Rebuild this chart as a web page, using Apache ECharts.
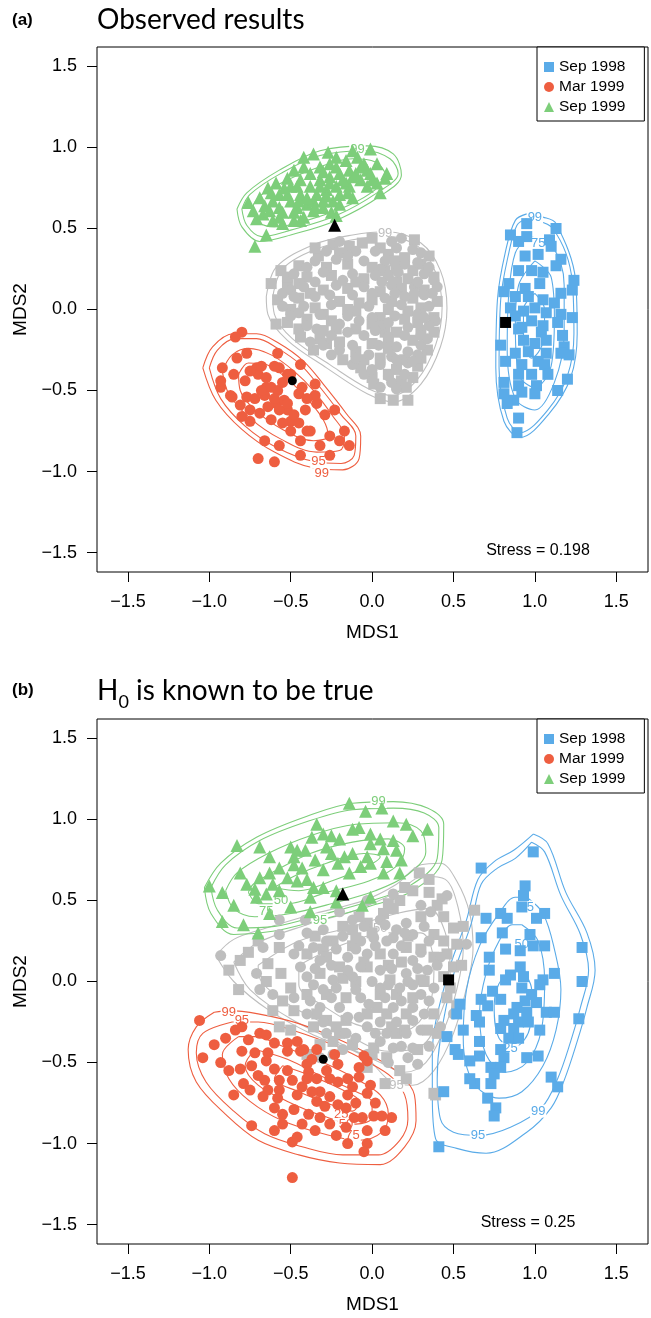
<!DOCTYPE html>
<html><head><meta charset="utf-8">
<script src="https://cdn.jsdelivr.net/npm/echarts@6/dist/echarts.min.js"></script>
<style>html,body{margin:0;padding:0;background:#fff}#c{width:651px;height:1318px}</style>
</head><body><div id="c"></div>
<script>
// ---------- tick values ----------
const xTicks = [-1.5,-1,-0.5,0,0.5,1,1.5];
const yTicks = [-1.5,-1,-0.5,0,0.5,1,1.5];
const groupNames = ['Sep 1998','Mar 1999','Sep 1999'];

// ---------- Panel (a): observed ----------
const a_sep98 = [[0.95,0.53],[1.13,0.50],[0.85,0.46],[0.95,0.45],[1.09,0.43],[1.10,0.39],[0.90,0.42],[1.02,0.34],[0.94,0.33],[1.16,0.31],[1.13,0.27],[0.90,0.24],[0.98,0.24],[1.05,0.23],[1.24,0.18],[0.84,0.16],[0.81,0.11],[0.94,0.13],[1.03,0.16],[1.23,0.12],[1.16,0.10],[0.88,0.08],[0.96,0.08],[1.05,0.06],[1.12,0.04],[0.85,0.01],[1.00,0.01],[0.93,-0.01],[1.07,-0.02],[1.16,-0.03],[1.23,-0.05],[0.88,-0.04],[0.98,-0.07],[0.92,-0.11],[1.05,-0.10],[1.14,-0.08],[0.79,-0.22],[0.90,-0.12],[1.04,-0.14],[0.93,-0.19],[1.07,-0.19],[1.17,-0.16],[1.18,-0.23],[1.00,-0.21],[0.88,-0.27],[0.96,-0.26],[1.07,-0.27],[1.16,-0.27],[1.21,-0.28],[0.82,-0.32],[0.92,-0.34],[1.02,-0.32],[1.06,-0.34],[0.90,-0.40],[0.98,-0.40],[1.08,-0.40],[0.81,-0.45],[0.90,-0.47],[1.01,-0.47],[1.20,-0.43],[0.92,-0.51],[1.00,-0.52],[0.81,-0.52],[1.14,-0.50],[0.87,-0.56],[0.83,-0.58],[0.90,-0.67],[0.89,-0.76]];
const a_mar99 = [[-0.80,-0.14],[-0.84,-0.17],[-0.92,-0.36],[-0.93,-0.48],[-0.86,-0.54],[-0.85,-0.40],[-0.83,-0.30],[-0.77,-0.27],[-0.71,-0.36],[-0.65,-0.48],[-0.58,-0.27],[-0.57,-0.36],[-0.50,-0.40],[-0.44,-0.34],[-0.43,-0.48],[-0.35,-0.46],[-0.34,-0.58],[-0.59,-0.58],[-0.77,-0.54],[-0.69,-0.64],[-0.52,-0.62],[-0.75,-0.69],[-0.66,-0.81],[-0.57,-0.84],[-0.44,-0.81],[-0.38,-0.75],[-0.32,-0.84],[-0.26,-0.78],[-0.20,-0.81],[-0.17,-0.75],[-0.26,-0.90],[-0.44,-0.90],[-0.70,-0.92],[-0.60,-0.94],[-0.50,-0.69],[-0.41,-0.62],[-0.29,-0.65],[-0.35,-0.53],[-0.23,-0.62],[-0.14,-0.84],[-0.54,-0.56],[-0.66,-0.53],[-0.81,-0.59],[-0.87,-0.53],[-0.78,-0.44],[-0.93,-0.44],[-0.70,-0.40],[-0.65,-0.42],[-0.62,-0.48],[-0.58,-0.50],[-0.55,-0.45],[-0.60,-0.55],[-0.68,-0.50],[-0.72,-0.55],[-0.64,-0.60],[-0.57,-0.62],[-0.52,-0.58],[-0.48,-0.65],[-0.55,-0.70],[-0.62,-0.68],[-0.50,-0.75],[-0.45,-0.70],[-0.40,-0.75],[-0.68,-0.35],[-0.75,-0.38],[-0.60,-0.35],[-0.52,-0.40],[-0.45,-0.52],[-0.40,-0.55],[-0.75,-0.62],[-0.80,-0.66]];
const a_sep99 = [[-0.72,0.39],[-0.65,0.46],[-0.71,0.56],[-0.76,0.66],[-0.69,0.69],[-0.64,0.75],[-0.59,0.78],[-0.52,0.81],[-0.48,0.86],[-0.42,0.88],[-0.36,0.96],[-0.27,0.97],[-0.22,0.94],[-0.16,0.92],[-0.12,0.98],[-0.01,0.99],[0.08,0.81],[0.09,0.84],[0.03,0.90],[-0.03,0.86],[-0.07,0.80],[-0.14,0.76],[-0.20,0.71],[-0.24,0.67],[-0.22,0.58],[-0.30,0.63],[-0.36,0.61],[-0.42,0.57],[-0.48,0.55],[-0.55,0.53],[-0.61,0.55],[-0.67,0.59],[-0.57,0.63],[-0.50,0.67],[-0.44,0.71],[-0.38,0.76],[-0.32,0.80],[-0.26,0.82],[-0.20,0.84],[-0.14,0.86],[-0.07,0.88],[-0.57,0.71],[-0.61,0.67],[-0.50,0.76],[-0.44,0.80],[-0.38,0.84],[-0.32,0.88],[-0.26,0.90],[-0.34,0.71],[-0.28,0.74],[-0.22,0.76],[-0.16,0.78],[-0.46,0.63],[-0.40,0.65],[-0.30,0.67],[-0.12,0.69],[-0.03,0.76],[0.03,0.78],[0.05,0.72],[-0.73,0.61],[-0.63,0.61],[-0.57,0.57],[-0.44,0.55],[-0.36,0.67],[-0.20,0.65],[-0.09,0.94],[-0.01,0.84],[-0.22,0.88],[-0.40,0.69],[-0.46,0.76],[-0.52,0.71],[-0.32,0.76],[-0.26,0.78],[-0.42,0.94],[-0.12,0.82],[-0.55,0.60],[-0.48,0.60],[-0.35,0.63],[-0.28,0.70],[-0.18,0.80],[-0.10,0.84],[-0.05,0.90],[0.00,0.80],[-0.30,0.85],[-0.45,0.67],[-0.62,0.72],[-0.66,0.64],[-0.54,0.75],[-0.15,0.72],[-0.25,0.60]];
const a_graySq = [[-0.24,0.40],[-0.14,0.39],[-0.06,0.41],[0.05,0.38],[0.26,0.43],[-0.33,0.33],[0.10,0.34],[0.20,0.32],[0.35,0.33],[-0.45,0.27],[-0.15,0.28],[0.00,0.26],[0.15,0.27],[0.30,0.28],[-0.56,0.24],[-0.40,0.20],[-0.25,0.21],[-0.05,0.19],[0.10,0.21],[0.22,0.19],[0.38,0.20],[-0.62,0.16],[-0.52,0.15],[-0.30,0.12],[-0.15,0.13],[0.05,0.11],[0.18,0.13],[0.32,0.12],[-0.58,0.06],[-0.45,0.07],[-0.20,0.05],[0.00,0.06],[0.25,0.07],[0.40,0.05],[-0.50,0.00],[-0.35,0.01],[-0.10,-0.01],[0.10,0.00],[0.30,0.01],[-0.40,-0.06],[-0.25,-0.07],[0.05,-0.05],[0.20,-0.06],[0.38,-0.05],[-0.59,-0.09],[-0.30,-0.13],[-0.10,-0.12],[0.15,-0.14],[0.30,-0.13],[-0.44,-0.17],[-0.32,-0.18],[-0.20,-0.20],[0.00,-0.21],[0.25,-0.19],[-0.36,-0.25],[-0.10,-0.26],[0.10,-0.24],[0.34,-0.25],[-0.18,-0.31],[0.05,-0.30],[0.20,-0.31],[-0.07,-0.36],[0.15,-0.37],[0.28,-0.35],[0.00,-0.42],[0.25,-0.42],[0.01,-0.46],[0.21,-0.48],[0.05,-0.55],[0.13,-0.56],[0.22,-0.56],[-0.35,0.38],[-0.20,0.35],[0.00,0.44],[0.14,0.30],[-0.52,0.20],[-0.28,0.26],[0.08,0.24],[0.25,0.24],[-0.45,0.16],[-0.10,0.17],[0.15,0.17],[-0.38,0.10],[-0.08,0.04],[0.12,0.05],[-0.30,-0.03],[-0.15,0.00],[0.22,-0.01],[-0.52,-0.08],[0.00,-0.09],[0.28,-0.08],[-0.22,-0.12],[0.08,-0.14],[0.38,-0.14],[-0.28,-0.21],[0.10,-0.20],[-0.05,-0.31],[0.30,-0.30],[0.10,-0.40],[0.18,-0.44],[-0.45,-0.12]];
const a_grayCi = [[-0.20,0.42],[0.12,0.42],[0.18,0.44],[-0.10,0.36],[0.02,0.36],[0.25,0.37],[-0.35,0.30],[-0.22,0.31],[0.08,0.30],[0.28,0.29],[0.05,0.25],[-0.48,0.22],[-0.30,0.23],[-0.12,0.22],[0.02,0.21],[0.16,0.23],[0.32,0.22],[0.38,0.18],[-0.35,0.17],[-0.42,0.14],[-0.22,0.15],[-0.05,0.14],[0.12,0.15],[0.26,0.14],[0.37,0.10],[-0.55,0.10],[-0.35,0.08],[-0.12,0.09],[0.08,0.07],[0.20,0.08],[0.32,0.09],[-0.42,0.02],[-0.25,0.03],[-0.02,0.02],[0.18,0.03],[0.35,0.02],[-0.50,-0.04],[-0.32,-0.03],[-0.15,-0.04],[0.00,-0.05],[0.14,-0.04],[0.28,-0.03],[0.39,-0.07],[-0.40,-0.10],[-0.20,-0.09],[0.05,-0.10],[0.22,-0.11],[0.35,-0.10],[-0.25,-0.16],[-0.05,-0.16],[0.10,-0.17],[0.30,-0.16],[-0.30,-0.22],[-0.12,-0.22],[0.15,-0.23],[0.30,-0.22],[-0.25,-0.28],[-0.02,-0.28],[0.12,-0.29],[0.28,-0.28],[-0.12,-0.34],[0.05,-0.34],[0.22,-0.33],[-0.05,-0.40],[0.10,-0.41],[0.20,-0.40],[0.05,-0.48],[0.15,-0.49],[-0.28,0.36],[-0.05,0.30],[0.20,0.28],[0.35,0.26],[-0.40,0.26],[-0.18,0.18],[0.06,0.17],[0.28,0.17],[-0.50,0.12],[-0.26,0.09],[0.00,0.10],[0.14,0.10],[0.26,0.10],[-0.45,-0.02],[-0.08,-0.07],[0.10,-0.08],[0.32,-0.05],[-0.34,-0.12],[-0.15,-0.14],[0.02,-0.13],[0.20,-0.16],[-0.38,-0.20],[-0.20,-0.25],[0.04,-0.22],[0.22,-0.26],[-0.10,-0.30],[0.15,-0.31],[0.00,-0.37],[0.25,-0.32],[0.12,-0.45],[-0.55,0.02],[-0.48,0.08],[0.40,0.14],[0.34,-0.18],[-0.15,0.33],[0.15,0.38],[0.30,0.35]];
const a_centroids = {sq:[[0.82,-0.08]], ci:[[-0.49,-0.44]], tr:[[-0.23,0.52]]};
// contours (a)
const a_cBlue = [
 [[0.95,0.59],[1.05,0.57],[1.13,0.53],[1.25,0.18],[1.26,-0.15],[1.22,-0.42],[1.09,-0.64],[0.91,-0.79],[0.81,-0.69],[0.76,-0.36],[0.77,0.06],[0.82,0.36],[0.88,0.55]],
 [[0.95,0.56],[1.11,0.50],[1.23,0.17],[1.24,-0.15],[1.20,-0.41],[1.08,-0.62],[0.91,-0.76],[0.83,-0.67],[0.78,-0.36],[0.79,0.06],[0.84,0.35],[0.89,0.52]],
 [[0.96,0.45],[1.10,0.40],[1.18,0.15],[1.18,-0.15],[1.12,-0.45],[1.00,-0.62],[0.88,-0.55],[0.83,-0.25],[0.84,0.10],[0.88,0.35]],
 [[1.00,0.30],[1.10,0.20],[1.12,-0.05],[1.10,-0.35],[1.00,-0.48],[0.90,-0.40],[0.88,-0.10],[0.90,0.15]],
 [[1.00,0.10],[1.06,0.00],[1.05,-0.20],[0.98,-0.30],[0.93,-0.20],[0.93,0.00]]];
const a_cRed = [
 [[-1.04,-0.36],[-0.98,-0.23],[-0.85,-0.15],[-0.71,-0.15],[-0.57,-0.21],[-0.42,-0.32],[-0.30,-0.46],[-0.16,-0.64],[-0.07,-0.78],[-0.08,-0.92],[-0.18,-0.99],[-0.35,-0.98],[-0.60,-0.88],[-0.80,-0.74],[-0.96,-0.56]],
 [[-1.00,-0.36],[-0.95,-0.25],[-0.84,-0.18],[-0.71,-0.18],[-0.58,-0.24],[-0.44,-0.34],[-0.32,-0.48],[-0.19,-0.65],[-0.10,-0.78],[-0.11,-0.90],[-0.19,-0.95],[-0.35,-0.94],[-0.59,-0.85],[-0.78,-0.72],[-0.93,-0.55]],
 [[-0.92,-0.38],[-0.86,-0.28],[-0.76,-0.24],[-0.62,-0.28],[-0.48,-0.38],[-0.36,-0.50],[-0.24,-0.66],[-0.17,-0.78],[-0.20,-0.87],[-0.34,-0.88],[-0.56,-0.80],[-0.75,-0.67],[-0.88,-0.52]],
 [[-0.82,-0.40],[-0.76,-0.33],[-0.65,-0.34],[-0.52,-0.43],[-0.40,-0.55],[-0.30,-0.68],[-0.27,-0.78],[-0.36,-0.81],[-0.55,-0.74],[-0.72,-0.62],[-0.81,-0.50]]];
const a_cGreen = [
 [[-0.83,0.62],[-0.80,0.51],[-0.69,0.42],[-0.50,0.46],[-0.22,0.55],[0.05,0.70],[0.18,0.83],[0.13,0.96],[-0.03,1.01],[-0.32,0.98],[-0.57,0.86],[-0.77,0.72]],
 [[-0.80,0.62],[-0.77,0.52],[-0.68,0.45],[-0.50,0.49],[-0.22,0.58],[0.03,0.72],[0.16,0.84],[0.11,0.93],[-0.04,0.98],[-0.32,0.95],[-0.56,0.84],[-0.75,0.71]],
 [[-0.74,0.62],[-0.70,0.54],[-0.60,0.51],[-0.40,0.55],[-0.15,0.64],[0.02,0.74],[0.08,0.83],[0.02,0.91],[-0.12,0.93],[-0.35,0.87],[-0.58,0.77],[-0.70,0.69]]];
const a_cGray = [
 [[-0.65,0.08],[-0.59,0.26],[-0.36,0.40],[-0.12,0.46],[0.09,0.48],[0.30,0.41],[0.42,0.24],[0.46,0.01],[0.42,-0.23],[0.30,-0.46],[0.13,-0.57],[-0.03,-0.52],[-0.28,-0.36],[-0.52,-0.19],[-0.64,-0.03]],
 [[-0.61,0.08],[-0.55,0.25],[-0.35,0.37],[-0.12,0.43],[0.09,0.45],[0.28,0.39],[0.39,0.23],[0.43,0.01],[0.39,-0.22],[0.28,-0.43],[0.13,-0.53],[-0.02,-0.49],[-0.26,-0.34],[-0.49,-0.18],[-0.60,-0.03]]];
const a_lblBlue = [[1.00,0.57,'99'],[1.02,0.41,'75']];
const a_lblRed = [[-0.33,-0.94,'95'],[-0.31,-1.01,'99']];
const a_lblGreen = [[-0.09,0.99,'99']];
const a_lblGray = [[0.08,0.47,'99']];

// ---------- Panel (b): H0 true ----------
const b_sep98 = [[0.67,0.70],[0.99,0.80],[0.94,0.59],[0.93,0.53],[0.92,0.46],[1.06,0.42],[1.01,0.39],[0.79,0.42],[0.83,0.39],[0.70,0.39],[0.67,0.27],[0.80,0.30],[0.97,0.29],[0.99,0.22],[1.06,0.22],[1.29,0.21],[0.82,0.20],[0.91,0.19],[0.72,0.15],[0.72,0.07],[0.85,0.04],[0.82,0.01],[0.91,0.09],[0.93,0.03],[1.12,0.05],[1.05,0.01],[1.03,-0.02],[1.29,0.00],[0.92,-0.04],[0.74,-0.06],[0.67,-0.11],[0.79,-0.11],[0.98,-0.08],[1.01,-0.13],[0.94,-0.12],[0.54,-0.14],[0.71,-0.15],[0.89,-0.16],[0.52,-0.20],[0.64,-0.21],[0.87,-0.20],[0.95,-0.19],[1.07,-0.19],[1.12,-0.19],[0.66,-0.25],[0.81,-0.24],[0.90,-0.25],[0.96,-0.25],[1.27,-0.23],[0.56,-0.30],[0.79,-0.29],[0.87,-0.29],[1.03,-0.30],[0.46,-0.34],[0.66,-0.37],[0.84,-0.35],[0.90,-0.35],[0.79,-0.42],[0.51,-0.42],[0.53,-0.45],[0.66,-0.46],[0.60,-0.49],[0.81,-0.47],[0.95,-0.47],[1.02,-0.46],[0.73,-0.53],[0.79,-0.53],[0.75,-0.57],[0.73,-0.63],[0.63,-0.63],[0.60,-0.60],[1.10,-0.59],[1.14,-0.65],[0.44,-0.68],[0.71,-0.72],[0.76,-0.78],[0.75,-0.83],[0.41,-1.02]];
const b_mar99 = [[-1.06,-0.24],[-0.97,-0.39],[-1.04,-0.47],[-0.93,-0.50],[-0.88,-0.55],[-0.81,-0.54],[-0.84,-0.30],[-0.80,-0.28],[-0.76,-0.36],[-0.69,-0.32],[-0.65,-0.33],[-0.60,-0.38],[-0.52,-0.38],[-0.46,-0.37],[-0.52,-0.43],[-0.44,-0.43],[-0.34,-0.42],[-0.23,-0.45],[-0.80,-0.43],[-0.72,-0.44],[-0.64,-0.44],[-0.74,-0.52],[-0.65,-0.49],[-0.60,-0.54],[-0.79,-0.63],[-0.75,-0.67],[-0.66,-0.61],[-0.67,-0.71],[-0.64,-0.67],[-0.57,-0.61],[-0.52,-0.55],[-0.40,-0.51],[-0.39,-0.56],[-0.34,-0.60],[-0.26,-0.60],[-0.21,-0.62],[-0.15,-0.60],[-0.08,-0.59],[-0.03,-0.49],[-0.05,-0.46],[-0.01,-0.64],[-0.03,-0.69],[0.02,-0.75],[0.06,-0.83],[0.12,-0.84],[0.01,-0.83],[-0.06,-0.84],[-0.11,-0.84],[-0.16,-0.78],[-0.15,-0.70],[-0.21,-0.76],[-0.26,-0.71],[-0.32,-0.68],[-0.37,-0.68],[-0.46,-0.70],[-0.48,-0.79],[-0.55,-0.82],[-0.55,-0.88],[-0.43,-0.88],[-0.39,-0.82],[-0.32,-0.84],[-0.26,-0.88],[-0.16,-0.90],[-0.03,-0.92],[-0.22,-0.95],[-0.15,-1.00],[-0.03,-1.00],[-0.05,-1.05],[-0.49,-0.99],[-0.46,-0.96],[-0.74,-0.89],[-0.49,-1.21],[-0.29,-0.77],[-0.34,-0.74],[-0.43,-0.65],[-0.49,-0.61],[-0.57,-0.67],[-0.60,-0.78],[-0.37,-0.48],[-0.21,-0.51],[-0.08,-0.53],[-0.90,-0.35],[-0.70,-0.58],[-0.58,-0.72],[-0.40,-0.60],[-0.28,-0.55],[-0.12,-0.65],[-0.10,-0.75],[-0.35,-0.92],[-0.60,-0.92],[-0.85,-0.70],[0.08,-0.92],[-0.42,-0.42]];
const b_sep99 = [[-0.14,1.10],[-0.04,1.05],[0.06,1.07],[0.13,0.99],[0.21,0.97],[0.34,0.94],[0.25,0.90],[0.05,0.88],[-0.01,0.91],[-0.08,0.95],[-0.20,0.88],[-0.25,0.90],[-0.30,0.91],[-0.34,0.97],[-0.37,0.89],[-0.50,0.83],[-0.46,0.81],[-0.41,0.81],[-0.69,0.83],[-0.83,0.84],[-0.81,0.67],[-1.00,0.59],[-0.92,0.55],[-0.85,0.47],[-0.92,0.37],[-0.79,0.35],[-0.70,0.30],[-0.63,0.42],[-0.72,0.57],[-0.69,0.64],[-0.63,0.67],[-0.57,0.70],[-0.52,0.64],[-0.48,0.72],[-0.43,0.70],[-0.40,0.63],[-0.35,0.75],[-0.30,0.69],[-0.25,0.79],[-0.21,0.73],[-0.17,0.77],[-0.14,0.67],[-0.12,0.79],[-0.07,0.71],[-0.03,0.77],[-0.01,0.73],[0.07,0.82],[0.09,0.74],[0.15,0.81],[0.18,0.75],[-0.12,0.94],[-0.01,0.85],[0.13,0.87],[-0.46,0.62],[-0.57,0.56],[-0.65,0.54],[-0.71,0.52],[-0.38,0.52],[-0.36,0.58],[-0.30,0.58],[-0.22,0.56],[-0.06,0.47],[-0.01,0.52],[-0.22,0.49],[-0.38,0.43],[-0.50,0.46],[-0.61,0.60],[-0.77,0.60],[-0.48,0.77],[-0.63,0.77],[-0.28,0.83],[0.17,0.67],[0.07,0.67]];
const b_graySq = [[0.29,0.67],[0.35,0.63],[0.20,0.58],[0.25,0.56],[0.43,0.51],[0.40,0.47],[0.44,0.40],[0.63,0.44],[0.17,0.50],[0.13,0.45],[0.07,0.42],[-0.03,0.36],[-0.12,0.32],[-0.18,0.34],[-0.24,0.25],[-0.12,0.22],[0.05,0.17],[0.21,0.21],[0.38,0.29],[0.44,0.25],[0.52,0.23],[0.56,0.34],[0.50,0.33],[0.38,0.15],[0.46,0.17],[0.50,0.09],[0.44,0.03],[0.30,0.01],[0.11,0.01],[-0.03,0.09],[-0.20,0.09],[-0.32,0.05],[-0.40,0.17],[-0.57,0.21],[-0.64,0.11],[-0.81,0.13],[-0.88,0.07],[-0.82,-0.05],[-0.56,0.05],[-0.50,-0.04],[-0.61,-0.18],[-0.48,-0.18],[-0.57,-0.28],[-0.50,-0.30],[-0.36,-0.28],[-0.28,-0.24],[-0.16,-0.24],[-0.03,-0.20],[0.09,-0.20],[0.21,-0.20],[0.38,-0.20],[0.34,-0.30],[0.15,-0.32],[0.01,-0.41],[-0.12,-0.39],[-0.24,-0.37],[-0.32,-0.39],[-0.40,-0.45],[-0.03,-0.53],[0.09,-0.47],[0.08,-0.63],[0.17,-0.55],[0.21,-0.60],[0.38,-0.69],[0.15,-0.08],[0.25,-0.10],[0.03,-0.16],[-0.16,-0.10],[-0.28,-0.08],[-0.40,-0.08],[0.46,-0.10],[0.48,-0.04],[0.39,-0.70],[0.00,0.30],[0.30,0.40],[0.10,0.10],[-0.10,0.00],[0.20,-0.30],[-0.20,-0.32],[0.30,0.20],[-0.30,0.20],[-0.35,0.28],[-0.10,0.27],[0.22,0.28],[-0.28,0.15],[-0.05,0.12],[0.18,0.12],[0.32,0.00],[-0.18,0.02],[0.05,-0.08],[-0.34,-0.20],[0.12,-0.28],[0.40,-0.32],[-0.22,-0.28],[0.28,-0.42],[0.00,-0.45],[-0.08,0.40],[0.10,0.48],[0.35,0.55],[0.55,0.10],[0.52,-0.15],[-0.70,0.25],[-0.76,0.18],[-0.65,0.00],[-0.55,-0.12]];
const b_grayCi = [[-0.93,0.16],[-0.71,0.05],[-0.69,-0.05],[-0.61,-0.08],[-0.57,0.38],[-0.41,0.38],[-0.20,0.43],[-0.12,0.38],[0.05,0.38],[0.13,0.54],[0.30,0.47],[0.36,0.43],[0.46,0.53],[0.58,0.23],[0.25,0.29],[0.13,0.27],[0.01,0.27],[-0.07,0.25],[-0.28,0.25],[-0.36,0.21],[-0.48,0.17],[-0.44,0.09],[-0.32,0.13],[-0.15,0.15],[-0.03,0.17],[0.13,0.17],[0.25,0.13],[0.34,0.07],[0.21,0.05],[0.05,0.07],[-0.12,0.03],[-0.24,0.01],[-0.36,-0.02],[-0.48,-0.10],[-0.32,-0.16],[-0.20,-0.16],[-0.07,-0.10],[0.05,-0.04],[0.17,-0.04],[0.30,-0.08],[0.38,-0.04],[0.25,-0.16],[0.13,-0.16],[-0.03,-0.28],[-0.16,-0.32],[-0.28,-0.32],[0.09,-0.32],[0.21,-0.32],[0.25,-0.41],[0.28,-0.51],[0.13,-0.41],[0.05,-0.37],[-0.03,-0.45],[-0.32,-0.47],[-0.24,-0.45],[0.25,-0.24],[0.42,-0.28],[0.50,-0.20],[-0.57,0.29],[-0.67,0.21],[-0.22,-0.04],[-0.40,0.03],[-0.07,0.09],[0.09,0.25],[0.21,0.36],[-0.03,0.50],[-0.10,0.20],[0.15,0.32],[0.35,0.25],[-0.25,0.10],[0.00,0.00],[0.25,-0.02],[-0.15,-0.22],[0.08,-0.10],[-0.40,-0.20],[-0.40,0.30],[-0.30,0.32],[-0.18,0.28],[-0.05,0.34],[0.08,0.35],[0.20,0.30],[0.32,0.34],[-0.45,0.22],[-0.22,0.20],[0.02,0.22],[0.18,0.22],[0.30,0.18],[0.42,0.15],[-0.35,0.08],[-0.15,0.07],[0.12,0.08],[0.28,0.08],[0.40,0.10],[-0.30,-0.05],[-0.10,-0.05],[0.10,-0.02],[0.22,0.00],[0.35,-0.12],[-0.38,-0.12],[-0.25,-0.10],[-0.02,-0.14],[0.18,-0.12],[0.32,-0.20],[-0.30,-0.25],[-0.08,-0.22],[0.05,-0.25],[0.15,-0.25],[0.30,-0.30],[-0.10,-0.35],[0.02,-0.32],[0.18,-0.40],[0.35,-0.40],[-0.18,-0.42],[0.10,-0.50],[0.22,-0.47]];
const b_centroids = {sq:[[0.47,0.01]], ci:[[-0.30,-0.48]], tr:[[-0.18,0.54]]};
const b_cBlue = [
 [[0.99,0.91],[1.08,0.85],[1.19,0.55],[1.32,0.30],[1.37,0.07],[1.32,-0.16],[1.26,-0.37],[1.18,-0.61],[1.10,-0.78],[0.95,-0.93],[0.70,-1.06],[0.52,-1.03],[0.39,-0.97],[0.37,-0.70],[0.37,-0.45],[0.46,0.03],[0.58,0.38],[0.65,0.63],[0.75,0.74],[0.87,0.81]],
 [[0.98,0.86],[1.06,0.80],[1.16,0.53],[1.28,0.29],[1.33,0.07],[1.28,-0.16],[1.22,-0.37],[1.14,-0.60],[1.04,-0.78],[0.85,-0.90],[0.66,-0.95],[0.50,-0.93],[0.42,-0.85],[0.40,-0.60],[0.42,-0.35],[0.50,0.04],[0.61,0.36],[0.67,0.60],[0.77,0.70],[0.88,0.76]],
 [[0.95,0.52],[1.05,0.42],[1.12,0.20],[1.16,-0.05],[1.13,-0.30],[1.05,-0.52],[0.92,-0.68],[0.78,-0.72],[0.62,-0.62],[0.56,-0.35],[0.58,-0.05],[0.66,0.22],[0.78,0.42],[0.88,0.52]],
 [[0.92,0.35],[1.02,0.25],[1.06,0.00],[1.04,-0.30],[0.95,-0.50],[0.82,-0.56],[0.70,-0.45],[0.66,-0.20],[0.70,0.05],[0.78,0.25],[0.86,0.35]],
 [[0.92,0.08],[0.98,-0.05],[0.97,-0.28],[0.88,-0.40],[0.78,-0.35],[0.75,-0.15],[0.80,0.02]]];
const b_cRed = [
 [[-0.97,-0.19],[-1.08,-0.28],[-1.13,-0.42],[-1.08,-0.62],[-0.90,-0.82],[-0.70,-0.98],[-0.45,-1.07],[-0.20,-1.12],[0.05,-1.13],[0.20,-1.02],[0.27,-0.86],[0.26,-0.70],[0.17,-0.57],[0.02,-0.47],[-0.20,-0.36],[-0.45,-0.26],[-0.70,-0.20],[-0.88,-0.18]],
 [[-0.86,-0.25],[-1.04,-0.32],[-1.08,-0.44],[-1.02,-0.62],[-0.85,-0.80],[-0.66,-0.94],[-0.43,-1.02],[-0.18,-1.07],[0.04,-1.07],[0.17,-0.98],[0.22,-0.85],[0.20,-0.70],[0.12,-0.59],[-0.02,-0.50],[-0.22,-0.40],[-0.46,-0.31],[-0.70,-0.25]],
 [[-0.82,-0.34],[-0.92,-0.45],[-0.88,-0.60],[-0.75,-0.74],[-0.55,-0.86],[-0.30,-0.94],[-0.08,-0.98],[0.06,-0.93],[0.10,-0.82],[0.05,-0.70],[-0.10,-0.60],[-0.30,-0.50],[-0.55,-0.40],[-0.72,-0.34]],
 [[-0.72,-0.42],[-0.78,-0.52],[-0.70,-0.64],[-0.52,-0.74],[-0.30,-0.83],[-0.10,-0.88],[0.00,-0.84],[0.00,-0.75],[-0.12,-0.67],[-0.32,-0.58],[-0.52,-0.48]],
 [[-0.55,-0.52],[-0.60,-0.60],[-0.45,-0.68],[-0.25,-0.76],[-0.12,-0.80],[-0.08,-0.74],[-0.18,-0.67],[-0.38,-0.58]]];
const b_cGreen = [
 [[-1.03,0.58],[-0.99,0.42],[-0.85,0.29],[-0.61,0.31],[-0.32,0.38],[-0.03,0.46],[0.25,0.56],[0.43,0.75],[0.44,0.97],[0.34,1.07],[0.13,1.11],[-0.12,1.10],[-0.40,1.02],[-0.71,0.89],[-0.93,0.73]],
 [[-0.99,0.58],[-0.95,0.44],[-0.83,0.33],[-0.60,0.34],[-0.32,0.41],[-0.03,0.49],[0.23,0.59],[0.40,0.76],[0.41,0.95],[0.32,1.04],[0.13,1.07],[-0.12,1.06],[-0.39,0.99],[-0.69,0.87],[-0.90,0.72]],
 [[-0.90,0.56],[-0.85,0.45],[-0.72,0.40],[-0.50,0.42],[-0.25,0.48],[0.02,0.56],[0.22,0.66],[0.33,0.80],[0.30,0.93],[0.15,0.98],[-0.10,0.97],[-0.38,0.90],[-0.64,0.79],[-0.83,0.67]],
 [[-0.76,0.55],[-0.70,0.48],[-0.52,0.48],[-0.28,0.55],[-0.02,0.62],[0.16,0.72],[0.20,0.82],[0.10,0.88],[-0.12,0.86],[-0.38,0.79],[-0.60,0.68],[-0.73,0.60]],
 [[-0.60,0.58],[-0.45,0.56],[-0.25,0.62],[-0.05,0.70],[0.05,0.77],[-0.05,0.79],[-0.28,0.73],[-0.48,0.65]]];
const b_cGray = [
 [[-0.96,0.16],[-0.85,0.26],[-0.65,0.33],[-0.35,0.42],[-0.05,0.50],[0.15,0.60],[0.30,0.72],[0.42,0.73],[0.52,0.62],[0.60,0.42],[0.62,0.20],[0.58,-0.04],[0.50,-0.32],[0.38,-0.55],[0.25,-0.64],[0.12,-0.62],[-0.05,-0.46],[-0.36,-0.33],[-0.63,-0.18],[-0.85,0.00]],
 [[-0.85,0.12],[-0.70,0.24],[-0.40,0.35],[-0.10,0.44],[0.15,0.55],[0.32,0.65],[0.45,0.63],[0.53,0.45],[0.56,0.20],[0.52,-0.05],[0.44,-0.30],[0.33,-0.50],[0.20,-0.56],[0.05,-0.50],[-0.20,-0.38],[-0.50,-0.23],[-0.75,-0.05]],
 [[-0.70,0.10],[-0.45,0.25],[-0.15,0.33],[0.15,0.42],[0.35,0.45],[0.45,0.30],[0.48,0.05],[0.42,-0.20],[0.30,-0.40],[0.10,-0.43],[-0.20,-0.30],[-0.50,-0.15],[-0.68,0.00]],
 [[-0.45,0.10],[-0.20,0.22],[0.10,0.30],[0.30,0.30],[0.38,0.10],[0.35,-0.15],[0.20,-0.30],[-0.05,-0.28],[-0.30,-0.15],[-0.45,-0.02]]];
const b_lblBlue = [[0.65,-0.95,'95'],[1.02,-0.80,'99'],[0.95,0.46,'75'],[0.92,0.23,'50'],[0.85,-0.41,'25']];
const b_lblRed = [[-0.88,-0.19,'99'],[-0.80,-0.24,'95'],[-0.19,-0.82,'25'],[-0.16,-0.88,'50'],[-0.12,-0.95,'75']];
const b_lblGreen = [[0.04,1.11,'99'],[-0.32,0.38,'95'],[-0.65,0.43,'75'],[-0.56,0.50,'50']];
const b_lblGray = [[0.05,0.33,'50'],[0.15,-0.64,'95']];

// ---------- colours ----------
const C = {blue:'#5aabe8', red:'#ee5e40', green:'#7dce7a', gray:'#bebebe'};
const FONT = 'Liberation Sans';

function fmt(v){ return (v<0?'\u2212':'') + Math.abs(v).toFixed(1); }

const series = [];
function addContours(list, color, gi){
  list.forEach(pts=>{
    series.push({type:'line', xAxisIndex:gi, yAxisIndex:gi, data:pts.concat([pts[0]]), smooth:0.35,
      symbol:'none', silent:true, lineStyle:{color:color, width:1.1}, z:1, animation:false});
  });
}
function addLabels(list, color, gi){
  series.push({type:'scatter', xAxisIndex:gi, yAxisIndex:gi, silent:true, symbolSize:1,
    itemStyle:{color:'rgba(255,255,255,0)'}, z:2, animation:false,
    data:list.map(l=>({value:[l[0],l[1]], name:l[2]})),
    label:{show:true, position:'inside', formatter:'{b}', color:color, opacity:1, fontSize:13, fontFamily:FONT,
      textBorderWidth:0, backgroundColor:'#fff', padding:[0,1]}});
}
function addPts(name, data, symbol, size, color, gi, z){
  series.push({type:'scatter', name:name, xAxisIndex:gi, yAxisIndex:gi, data:data, symbol:symbol,
    symbolSize:size, itemStyle:{color:color, opacity:1}, z:z, silent:true, animation:false});
}

const panels = [
  {sep98:a_sep98, mar99:a_mar99, sep99:a_sep99, gSq:a_graySq, gCi:a_grayCi, cen:a_centroids,
   cB:a_cBlue, cR:a_cRed, cG:a_cGreen, cY:a_cGray, lB:a_lblBlue, lR:a_lblRed, lG:a_lblGreen, lY:a_lblGray},
  {sep98:b_sep98, mar99:b_mar99, sep99:b_sep99, gSq:b_graySq, gCi:b_grayCi, cen:b_centroids,
   cB:b_cBlue, cR:b_cRed, cG:b_cGreen, cY:b_cGray, lB:b_lblBlue, lR:b_lblRed, lG:b_lblGreen, lY:b_lblGray}
];
panels.forEach((p,gi)=>{
  addContours(p.cY, C.gray, gi);
  addContours(p.cG, C.green, gi);
  addContours(p.cR, C.red, gi);
  addContours(p.cB, C.blue, gi);
  addLabels(p.lY, C.gray, gi); addLabels(p.lG, C.green, gi);
  addLabels(p.lR, C.red, gi); addLabels(p.lB, C.blue, gi);
  addPts('gsq'+gi, p.gSq, 'rect', 11, C.gray, gi, 3);
  addPts('gci'+gi, p.gCi, 'circle', 11, C.gray, gi, 3);
  addPts(groupNames[0], p.sep98, 'rect', 11, C.blue, gi, 4);
  addPts(groupNames[1], p.mar99, 'circle', 11, C.red, gi, 4);
  addPts(groupNames[2], p.sep99, 'triangle', 13, C.green, gi, 4);
  addPts('k1'+gi, p.cen.sq, 'rect', 11, '#000', gi, 5);
  addPts('k2'+gi, p.cen.ci, 'circle', 9, '#000', gi, 5);
  addPts('k3'+gi, p.cen.tr, 'triangle', 13, '#000', gi, 5);
});

const grids = [
  {left:97, top:47, width:551, height:525, show:true, borderColor:'#000', borderWidth:1, backgroundColor:'transparent'},
  {left:97, top:719, width:551, height:525, show:true, borderColor:'#000', borderWidth:1, backgroundColor:'transparent'}
];
function xAx(gi){ return {type:'value', gridIndex:gi, min:-1.69, max:1.695, position:'bottom',
  axisLine:{show:false, onZero:false}, splitLine:{show:false},
  axisTick:{show:true, length:10, lineStyle:{color:'#000'}, customValues:xTicks},
  axisLabel:{customValues:xTicks, formatter:fmt, color:'#000', fontSize:18, fontFamily:FONT, margin:21},
  name:'MDS1', nameLocation:'middle', nameGap:51, nameTextStyle:{fontSize:19, color:'#000', fontFamily:FONT}}; }
function yAx(gi){ return {type:'value', gridIndex:gi, min:-1.62, max:1.62, position:'left',
  axisLine:{show:false, onZero:false}, splitLine:{show:false},
  axisTick:{show:true, length:10, lineStyle:{color:'#000'}, customValues:yTicks},
  axisLabel:{customValues:yTicks, formatter:fmt, color:'#000', fontSize:18, fontFamily:FONT, margin:20},
  name:'MDS2', nameLocation:'middle', nameGap:62, nameTextStyle:{fontSize:19, color:'#000', fontFamily:FONT}}; }

function legendAt(top){ return {left:537, top:top, orient:'vertical', selectedMode:false,
  itemWidth:10, itemHeight:10, itemGap:4, padding:[12,19,6,7], borderColor:'#000', borderWidth:1,
  backgroundColor:'#fff', textStyle:{fontSize:15.5, fontFamily:FONT, color:'#000'},
  data:[{name:groupNames[0], icon:'rect'},{name:groupNames[1], icon:'circle'},{name:groupNames[2], icon:'triangle'}]}; }

const chart = echarts.init(document.getElementById('c'), null, {renderer:'canvas'});
chart.setOption({
  animation:false,
  backgroundColor:'#fff',
  grid:grids,
  xAxis:[xAx(0), xAx(1)],
  yAxis:[yAx(0), yAx(1)],
  legend:[legendAt(47), legendAt(719)],
  series:series,
  graphic:[
    {type:'text', x:12, y:20, style:{text:'(a)', font:'bold 17px "Liberation Sans"', fill:'#000', textVerticalAlign:'middle'}},
    {type:'text', x:97, y:20, style:{text:'Observed results', font:'28px Lato', fill:'#000', textVerticalAlign:'middle'}},
    {type:'text', x:12, y:690, style:{text:'(b)', font:'bold 17px "Liberation Sans"', fill:'#000', textVerticalAlign:'middle'}},
    {type:'text', x:97, y:675, style:{text:'{n|H}{s|0}{n| is known to be true}', fill:'#000',
      rich:{n:{fontSize:28, fontFamily:'Lato', lineHeight:30, verticalAlign:'bottom'},
            s:{fontSize:18, fontFamily:'Lato', lineHeight:30, verticalAlign:'bottom', padding:[0,0,-6,0]}}}},
    {type:'text', x:538, y:551, style:{text:'Stress = 0.198', font:'16px "Liberation Sans"', fill:'#000', textAlign:'center', textVerticalAlign:'middle'}},
    {type:'text', x:528, y:1223, style:{text:'Stress = 0.25', font:'16px "Liberation Sans"', fill:'#000', textAlign:'center', textVerticalAlign:'middle'}}
  ]
});
</script></body></html>
